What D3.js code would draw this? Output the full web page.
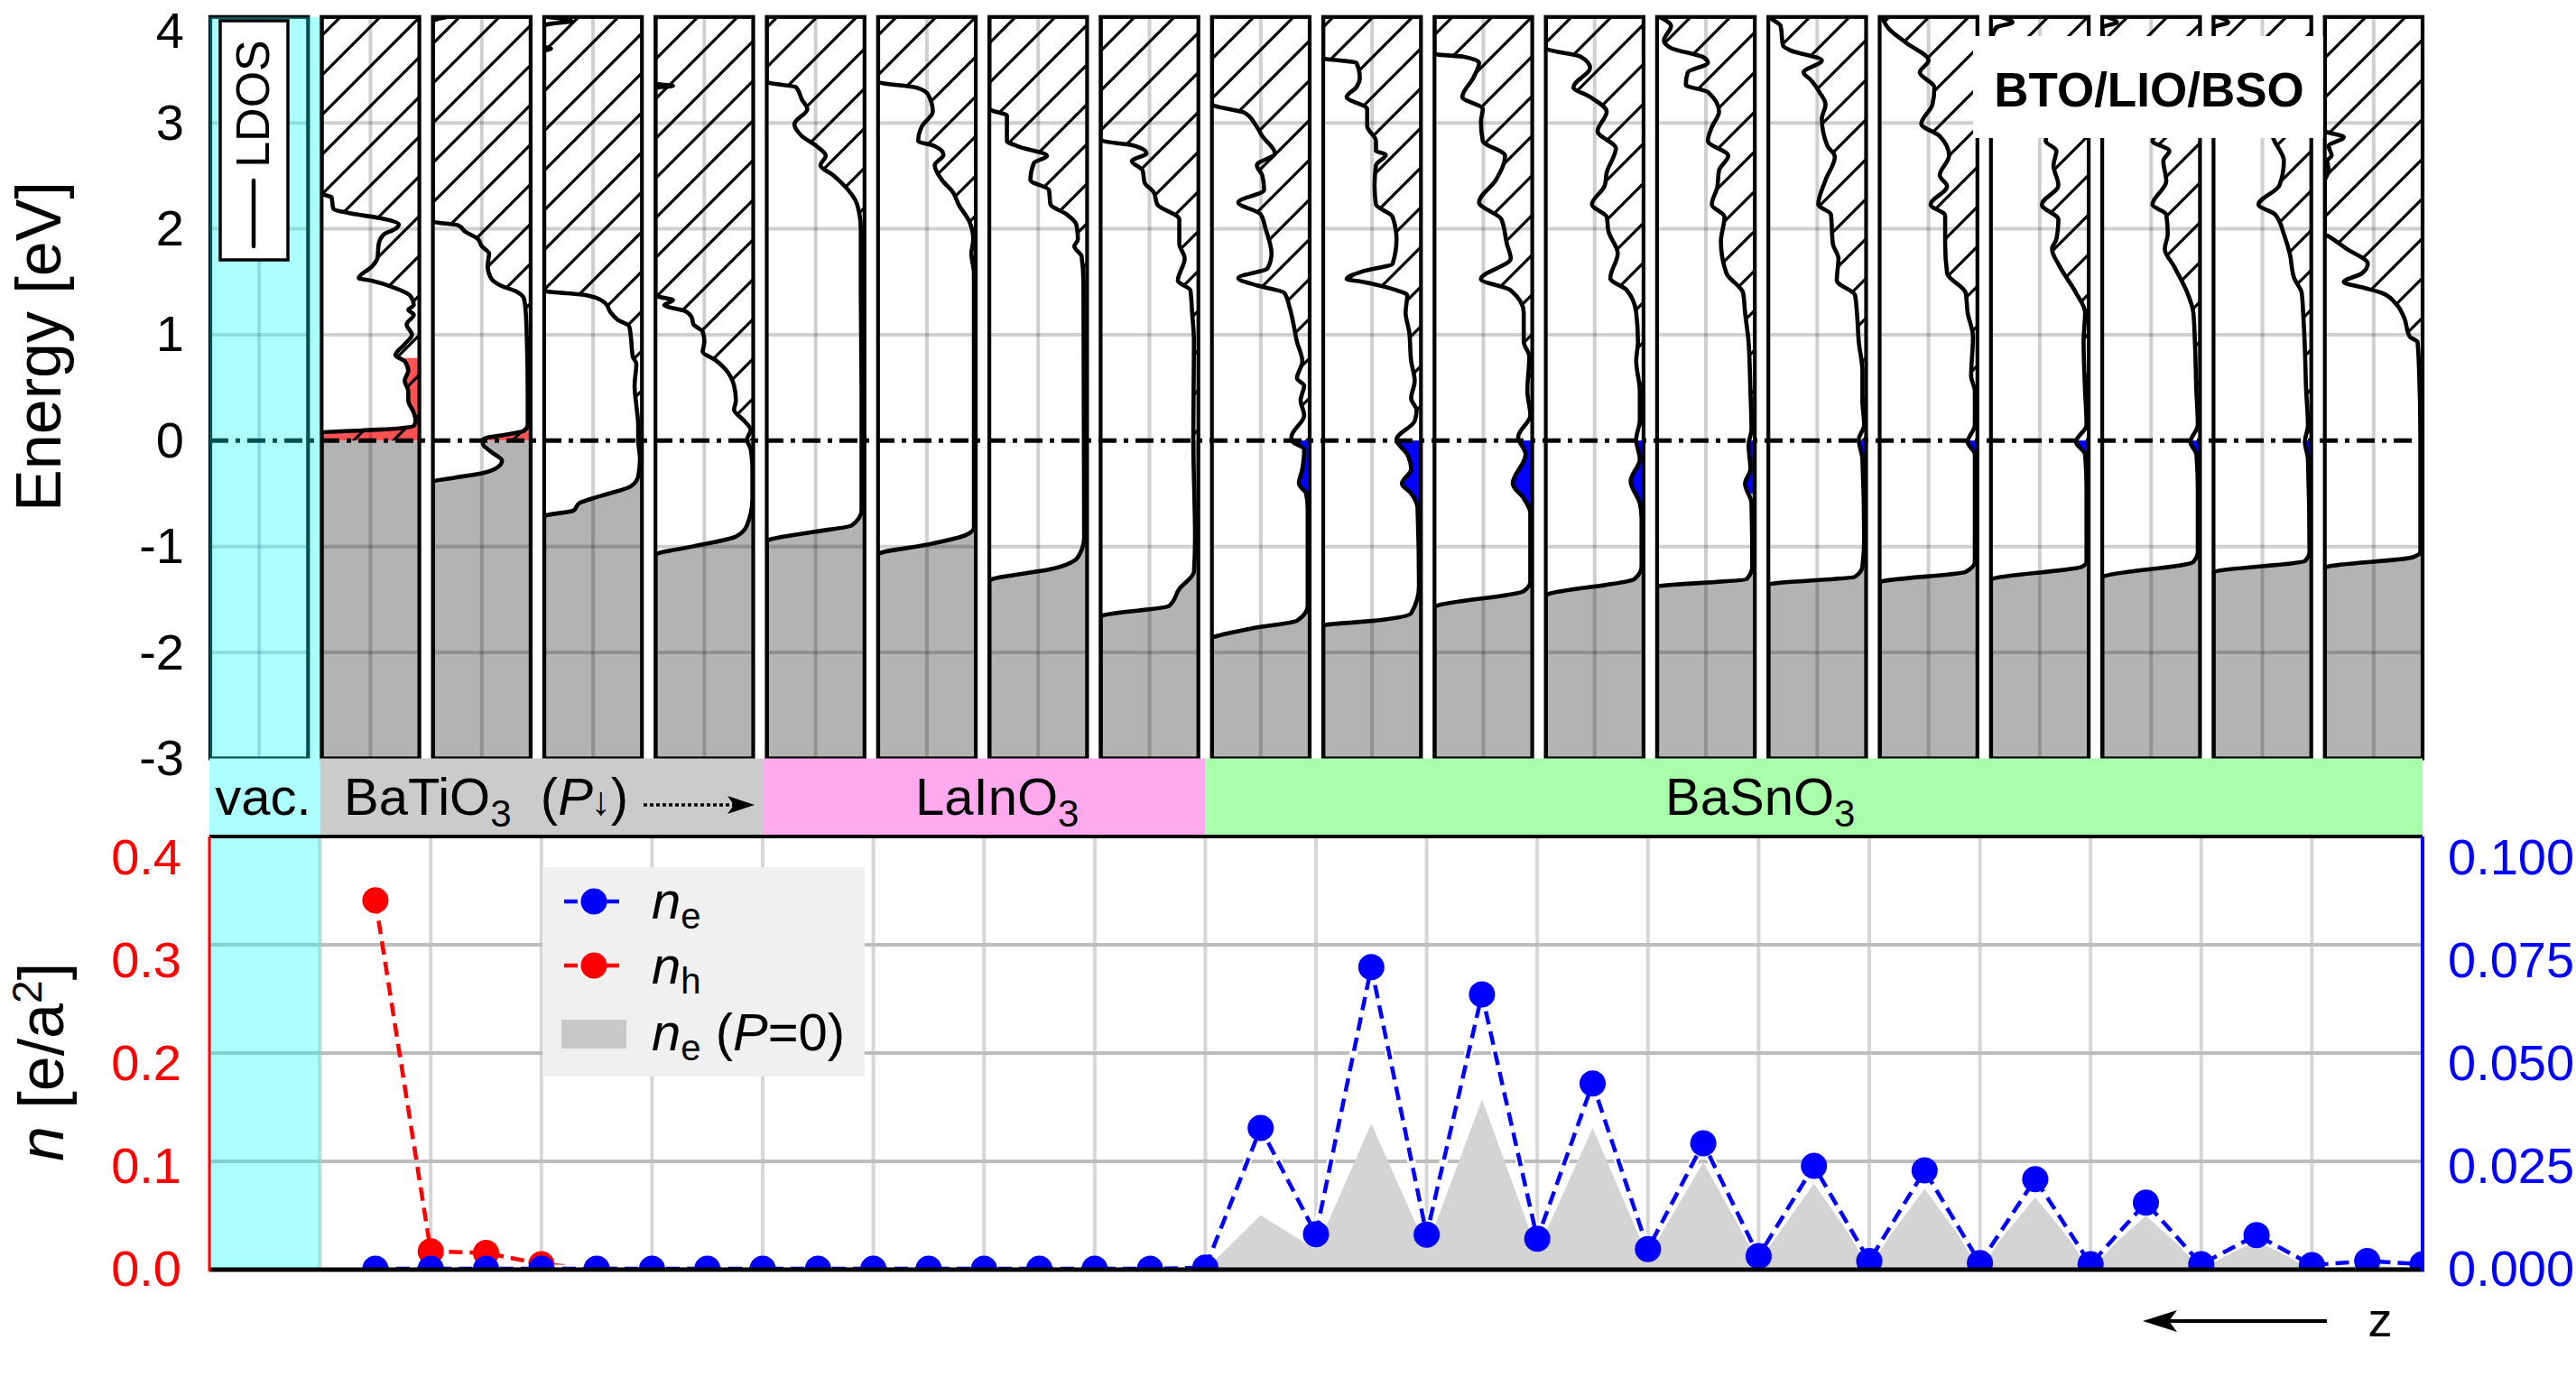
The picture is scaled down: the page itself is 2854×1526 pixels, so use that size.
<!DOCTYPE html>
<html><head><meta charset="utf-8">
<script src="https://cdn.jsdelivr.net/npm/d3@7"></script>
<style>
html,body{margin:0;padding:0;background:#fff;}
svg{display:block;font-family:"Liberation Sans",Arial,Helvetica,sans-serif;}
</style></head><body>
<svg id="c" width="2854" height="1526"></svg>
<script>
// ---------------- DATA ----------------
const energyTicks = [-3,-2,-1,0,1,2,3,4];
const energyGrid = [-2,-1,1,2,3];
// LDOS curves: [energy (eV), relative DOS (0 = panel right edge, 1 = left edge)]
const ldosBTO1 = [[2.34,1],[2.32,0.97],[2.30,0.9],[2.19,0.88],[2.145,0.70],[2.10,0.40],[2.04,0.21],[2.00,0.245],[1.95,0.36],[1.86,0.415],[1.72,0.43],[1.64,0.49],[1.535,0.62],[1.51,0.49],[1.44,0.245],[1.37,0.094],[1.28,0.057],[1.235,0.113],[1.19,0.057],[1.096,0.13],[1.00,0.075],[0.91,0.15],[0.805,0.245],[0.75,0.15],[0.66,0.113],[0.565,0.15],[0.47,0.113],[0.38,0.113],[0.264,0.057],[0.185,0.038],[0.14,0.057],[0.116,0.21],[0.097,0.585],[0.079,0.98],[0.06,1]];
const ldosBTO2 = [[4.0,0.85],[3.98,0.95],[3.96,1],[2.08,1],[2.066,0.99],[2.034,0.744],[1.974,0.67],[1.905,0.54],[1.835,0.50],[1.766,0.425],[1.65,0.44],[1.535,0.406],[1.466,0.31],[1.406,0.143],[1.34,0.068],[1.21,0.05],[0.934,0.038],[0.47,0.03],[0.148,0.03],[0.093,0.068],[0.056,0.256],[0.018,0.48],[-0.027,0.49],[-0.105,0.406],[-0.19,0.293],[-0.258,0.35],[-0.304,0.48],[-0.35,0.78],[-0.383,0.99],[-0.40,1]];
const ldosBTO3 = [[4.0,0.98],[3.98,0.8],[3.96,0.72],[3.94,0.9],[3.92,1],[3.72,1],[3.70,0.93],[3.68,1],[1.42,1],[1.41,0.98],[1.373,0.566],[1.30,0.377],[1.21,0.32],[1.14,0.245],[1.08,0.13],[0.98,0.113],[0.795,0.094],[0.726,0.057],[0.518,0.075],[0.333,0.057],[0.148,0.038],[0.01,0.038],[-0.175,0.02],[-0.337,0.038],[-0.43,0.113],[-0.52,0.415],[-0.59,0.64],[-0.66,0.70],[-0.706,0.98],[-0.72,1]];
const ldosBTO4 = [[3.37,1],[3.35,0.82],[3.33,1],[1.37,1],[1.36,0.97],[1.327,0.82],[1.28,0.91],[1.22,0.69],[1.165,0.63],[1.096,0.61],[1.03,0.517],[0.934,0.50],[0.84,0.517],[0.76,0.385],[0.68,0.29],[0.52,0.196],[0.38,0.177],[0.29,0.196],[0.195,0.10],[0.10,0.026],[0.01,0.064],[-0.08,0.026],[-0.27,0.008],[-0.545,0.008],[-0.80,0.064],[-0.905,0.177],[-0.997,0.61],[-1.07,0.99],[-1.08,1]];
const ldosLIO1 = [[3.393,1],[3.38,0.98],[3.337,0.70],[3.22,0.64],[3.13,0.585],[2.99,0.717],[2.875,0.64],[2.78,0.49],[2.69,0.396],[2.60,0.45],[2.505,0.32],[2.37,0.17],[2.23,0.075],[1.997,0.038],[1.40,0.038],[0.47,0.03],[-0.66,0.03],[-0.80,0.13],[-0.86,0.51],[-0.937,0.98],[-0.95,1]];
const ldosLIO2 = [[3.39,1],[3.38,0.98],[3.337,0.625],[3.27,0.49],[3.106,0.44],[2.97,0.55],[2.83,0.59],[2.78,0.42],[2.70,0.33],[2.60,0.42],[2.46,0.345],[2.343,0.232],[2.23,0.176],[2.066,0.064],[1.90,0.026],[1.766,0.045],[1.58,0.019],[-0.822,0.019],[-0.891,0.10],[-0.984,0.51],[-1.062,0.98],[-1.075,1]];
const ldosLIO3 = [[3.13,1],[3.115,0.97],[3.07,0.82],[2.83,0.82],[2.78,0.71],[2.69,0.41],[2.62,0.545],[2.46,0.58],[2.367,0.39],[2.23,0.375],[2.135,0.206],[2.04,0.11],[1.90,0.094],[1.835,0.13],[1.74,0.056],[1.49,0.037],[-0.914,0.03],[-1.10,0.094],[-1.214,0.375],[-1.307,0.97],[-1.32,1]];
const ldosLIO4 = [[2.852,1],[2.83,0.98],[2.79,0.68],[2.713,0.53],[2.64,0.68],[2.55,0.57],[2.436,0.55],[2.343,0.455],[2.23,0.42],[2.09,0.195],[1.86,0.195],[1.72,0.14],[1.51,0.21],[1.42,0.082],[1.21,0.064],[0.934,0.045],[0.01,0.052],[-0.914,0.034],[-1.238,0.045],[-1.40,0.195],[-1.56,0.30],[-1.65,0.98],[-1.66,1]];
const ldosBSO1 = [[3.175,1],[3.16,0.97],[3.097,0.67],[2.99,0.56],[2.875,0.485],[2.713,0.355],[2.60,0.54],[2.505,0.485],[2.367,0.466],[2.25,0.73],[2.135,0.50],[1.997,0.45],[1.766,0.39],[1.627,0.43],[1.535,0.73],[1.466,0.54],[1.396,0.26],[1.258,0.205],[1.12,0.17],[0.934,0.13],[0.75,0.075],[0.588,0.13],[0.518,0.056],[0.38,0.093],[0.24,0.056],[0.033,0.187],[-0.013,0.168],[-0.083,0.056],[-0.267,0.075],[-0.406,0.11],[-0.498,0.037],[-0.637,0.02],[-1.56,0.02],[-1.70,0.13],[-1.77,0.58],[-1.85,0.97],[-1.86,1]];
const ldosBSO2 = [[3.615,1],[3.605,0.98],[3.59,0.83],[3.568,0.66],[3.43,0.625],[3.337,0.66],[3.245,0.76],[3.13,0.55],[2.97,0.55],[2.83,0.46],[2.736,0.46],[2.70,0.36],[2.60,0.46],[2.41,0.475],[2.23,0.46],[2.113,0.29],[1.90,0.25],[1.67,0.29],[1.60,0.59],[1.526,0.76],[1.498,0.59],[1.42,0.25],[1.373,0.14],[1.21,0.157],[1.026,0.12],[0.75,0.10],[0.564,0.064],[0.40,0.10],[0.287,0.045],[0.185,0.064],[0.01,0.25],[-0.13,0.14],[-0.267,0.10],[-0.406,0.195],[-0.498,0.10],[-0.637,0.035],[-1.376,0.02],[-1.63,0.10],[-1.70,0.475],[-1.74,0.98],[-1.75,1]];
const ldosBSO3 = [[3.66,1],[3.647,0.98],[3.624,0.696],[3.568,0.544],[3.43,0.60],[3.245,0.715],[3.13,0.506],[3.014,0.525],[2.83,0.506],[2.69,0.278],[2.46,0.373],[2.25,0.544],[2.09,0.316],[1.86,0.26],[1.72,0.22],[1.526,0.525],[1.42,0.22],[1.21,0.087],[0.934,0.087],[0.795,0.03],[0.47,0.05],[0.24,0.02],[0.033,0.144],[-0.13,0.068],[-0.406,0.20],[-0.545,0.087],[-0.683,0.02],[-1.33,0.02],[-1.42,0.087],[-1.56,0.98],[-1.57,1]];
const ldosBSO4 = [[3.707,1],[3.693,0.98],[3.624,0.64],[3.52,0.547],[3.337,0.717],[3.245,0.547],[3.106,0.377],[2.92,0.47],[2.76,0.283],[2.53,0.377],[2.41,0.396],[2.23,0.528],[2.113,0.377],[1.974,0.358],[1.766,0.264],[1.535,0.34],[1.42,0.17],[1.21,0.075],[0.934,0.057],[0.75,0.075],[0.47,0.038],[0.195,0.038],[0.01,0.075],[-0.175,0.038],[-0.383,0.132],[-0.59,0.038],[-0.73,0.02],[-1.19,0.02],[-1.307,0.094],[-1.45,0.98],[-1.46,1]];
const ldosBSO5 = [[4.007,0.99],[3.915,0.857],[3.776,0.93],[3.707,0.857],[3.615,0.517],[3.568,0.48],[3.476,0.687],[3.36,0.706],[3.291,0.48],[3.106,0.366],[2.96,0.44],[2.83,0.48],[2.69,0.272],[2.552,0.366],[2.39,0.385],[2.228,0.44],[2.113,0.31],[1.88,0.347],[1.58,0.29],[1.396,0.12],[1.21,0.10],[0.934,0.064],[0.47,0.045],[0.102,0.034],[-0.036,0.064],[-0.267,0.045],[-0.406,0.10],[-0.59,0.034],[-1.19,0.026],[-1.307,0.083],[-1.376,0.99],[-1.39,1]];
const ldosBSO6 = [[3.993,0.98],[3.915,0.875],[3.73,0.85],[3.684,0.774],[3.59,0.453],[3.476,0.64],[3.406,0.566],[3.28,0.47],[3.175,0.415],[3.037,0.453],[2.783,0.396],[2.681,0.32],[2.46,0.415],[2.228,0.49],[2.136,0.36],[1.858,0.34],[1.72,0.283],[1.512,0.30],[1.373,0.113],[1.21,0.094],[0.934,0.075],[0.657,0.038],[0.38,0.038],[0.148,0.02],[0.01,0.075],[-0.175,0.038],[-0.914,0.02],[-1.19,0.038],[-1.284,0.113],[-1.353,0.98],[-1.365,1]];
const ldosBSO7 = [[4.007,0.98],[3.892,0.91],[3.753,0.725],[3.59,0.50],[3.476,0.59],[3.337,0.44],[3.175,0.46],[2.99,0.574],[2.875,0.385],[2.69,0.29],[2.505,0.385],[2.40,0.31],[2.228,0.48],[2.127,0.33],[1.858,0.33],[1.58,0.31],[1.396,0.12],[1.21,0.10],[0.98,0.045],[0.61,0.064],[0.47,0.026],[0.148,0.026],[-0.013,0.10],[-0.13,0.026],[-1.145,0.026],[-1.238,0.12],[-1.33,0.98],[-1.345,1]];
const ldosBSO8 = [[4.0,0.9],[3.95,0.78],[3.9,0.95],[3.72,1],[3.70,0.97],[3.62,0.68],[3.50,0.58],[3.35,0.66],[3.2,0.48],[3.05,0.5],[2.92,0.42],[2.83,0.44],[2.736,0.33],[2.60,0.36],[2.41,0.31],[2.228,0.48],[2.09,0.31],[1.905,0.33],[1.81,0.375],[1.65,0.30],[1.396,0.13],[1.21,0.037],[0.934,0.052],[0.47,0.037],[0.148,0.022],[-0.013,0.13],[-0.13,0.037],[-0.452,0.022],[-1.145,0.022],[-1.19,0.068],[-1.307,0.99],[-1.32,1]];
const ldosBSO9 = [[4.0,0.95],[3.95,0.85],[3.9,1],[3.78,0.98],[3.7,0.72],[3.55,0.6],[3.4,0.62],[3.2,0.5],[3.0,0.52],[2.9,0.45],[2.83,0.486],[2.736,0.314],[2.64,0.375],[2.45,0.345],[2.228,0.486],[2.136,0.345],[1.95,0.33],[1.81,0.36],[1.65,0.268],[1.396,0.129],[1.21,0.068],[0.934,0.052],[0.47,0.037],[0.148,0.022],[-0.013,0.098],[-0.13,0.037],[-0.452,0.022],[-1.05,0.022],[-1.145,0.068],[-1.284,0.99],[-1.30,1]];
const ldosBSO10 = [[4.0,0.95],[3.95,0.85],[3.9,1],[3.8,1],[3.7,0.8],[3.5,0.6],[3.3,0.55],[3.1,0.45],[2.95,0.42],[2.852,0.388],[2.64,0.28],[2.41,0.326],[2.228,0.54],[2.136,0.37],[1.95,0.28],[1.766,0.22],[1.535,0.175],[1.396,0.098],[1.21,0.083],[0.934,0.068],[0.47,0.052],[0.148,0.034],[-0.013,0.065],[-0.175,0.034],[-1.05,0.018],[-1.136,0.065],[-1.238,0.99],[-1.25,1]];
const ldosBSO11 = [[2.92,1],[2.912,0.975],[2.866,0.806],[2.783,0.96],[2.69,0.93],[2.644,0.975],[2.55,0.96],[2.45,1],[1.95,1],[1.928,0.96],[1.81,0.775],[1.67,0.56],[1.58,0.62],[1.498,0.806],[1.44,0.59],[1.396,0.42],[1.30,0.28],[1.165,0.19],[0.98,0.13],[0.934,0.052],[0.70,0.037],[0.01,0.022],[-1.05,0.022],[-1.10,0.098],[-1.19,0.975],[-1.20,1]];
const panelCurves = [null, ldosBTO1, ldosBTO2, ldosBTO3, ldosBTO4, ldosLIO1, ldosLIO2, ldosLIO3, ldosLIO4,
  ldosBSO1, ldosBSO2, ldosBSO3, ldosBSO4, ldosBSO5, ldosBSO6, ldosBSO7, ldosBSO8, ldosBSO9, ldosBSO10, ldosBSO11];
// hole states (red) up to this energy, electron states (blue) down to this energy
const holeTop = [null, 0.78, 0.12, null, null, null, null, null, null, null, null, null, null, null, null, null, null, null, null, null];
const elecBottom = [null, null, null, null, null, null, null, null, null, -0.56, -0.66, -0.62, -0.62, -0.5, -0.3, -0.2, -0.2, -0.2, -0.2, null];

// region labels (in unit-cell index along z)
const regionNames = ["vac.", "BaTiO3", "LaInO3", "BaSnO3"];
const regionStart = [0, 1, 5, 9];
const regionEnd = [1, 5, 9, 20];
const regionColors = ["#ffffff", "#cbcbcb", "#ffaaee", "#aaffaa"];

// carrier densities per layer
const layerPos = [1.5,2,2.5,3,3.5,4,4.5,5,5.5,6,6.5,7,7.5,8,8.5,9,9.5,10,10.5,11,11.5,12,12.5,13,13.5,14,14.5,15,15.5,16,16.5,17,17.5,18,18.5,19,19.5,20];
const nE = [0.0002,0.0002,0.0002,0.0002,0.0002,0.0002,0.0002,0.0002,0.0002,0.0002,0.0002,0.0002,0.0002,0.0002,0.0002,0.0005,0.0344,0.0086,0.0735,0.0085,0.0669,0.0075,0.0452,0.0050,0.0307,0.0033,0.0252,0.0021,0.0241,0.0016,0.0220,0.0013,0.0163,0.0013,0.0084,0.0011,0.0021,0.0013];
// holes only in the BaTiO3 layers (first 8 positions)
const nH = [0.359,0.0178,0.0162,0.0053,0.0004,0,0,0];
const nE_P0 = [0,0,0,0,0,0,0,0,0,0,0,0,0,0,0,0,0.0132,0.0048,0.0355,0.0052,0.0414,0.0045,0.0344,0.0031,0.0261,0.0020,0.0209,0.0015,0.0196,0.0012,0.0176,0.0010,0.0131,0.0010,0.0068,0.0008,0.0015,0.0010];
const leftTicks = [0,0.1,0.2,0.3,0.4];
const rightTicks = [0,0.025,0.05,0.075,0.1];

// ---------------- DRAWING ----------------
const svg = d3.select("#c");
const defs = svg.append("defs");
const FONT = '"Liberation Sans",Arial,Helvetica,sans-serif';

const pat = defs.append("pattern").attr("id","hatch").attr("patternUnits","userSpaceOnUse")
  .attr("width",44).attr("height",44);
pat.append("path").attr("d","M-11,11 L11,-11 M0,44 L44,0 M33,55 L55,33")
  .attr("stroke","#000").attr("stroke-width",3.2);

let clipN = 0;
function clipRect(x,y,w,h){
  const id = "cl"+(clipN++);
  defs.append("clipPath").attr("id",id).append("rect").attr("x",x).attr("y",y).attr("width",w).attr("height",h);
  return `url(#${id})`;
}

// scales
const yE = d3.scaleLinear().domain([-3,4]).range([840.5,18.8]);
const xPanel = d3.scaleLinear().domain([0,19]).range([233,2575.7]);
const panelW = 108.3;
const xB = d3.scaleLinear().domain([0,20]).range([232,2684]);
const yL = d3.scaleLinear().domain([0,0.421]).range([1407,927]);
const yR = d3.scaleLinear().domain([0,0.10525]).range([1407,927]);
const yGrid = d3.scaleLinear().domain([0,4]).range([1407,927]);

// ---- top LDOS panels ----
const topG = svg.append("g");
const T = yE(4), Bt = yE(-3), y0 = yE(0);
for (let i=0;i<20;i++){
  const L = xPanel(i), R = L+panelW;
  const g = topG.append("g");
  const pClip = clipRect(L,T,panelW,Bt-T);
  g.append("rect").attr("x",L).attr("y",T).attr("width",panelW).attr("height",Bt-T).attr("fill","#fff");
  const curve = panelCurves[i];
  let pts = null, xD = null;
  if (curve){
    pts = curve.slice();
    if (pts[0][0] < 4) pts.unshift([4.05,1]);
    if (pts[pts.length-1][0] > -3) pts.push([-3.05,1]);
    xD = d3.scaleLinear().domain([0,1]).range([R,L]);
    const area = d3.area().curve(d3.curveMonotoneY).y(d=>yE(d[0])).x0(R).x1(d=>xD(d[1]));
    const aPath = area(pts);
    g.append("g").attr("clip-path",clipRect(L,y0,panelW,Bt-y0))
      .append("path").attr("d",aPath).attr("fill","#b3b3b3");
    if (elecBottom[i] !== null){
      g.append("g").attr("clip-path",clipRect(L,y0,panelW,yE(elecBottom[i])-y0))
        .append("path").attr("d",aPath).attr("fill","#0000ff");
    }
    if (holeTop[i] !== null){
      g.append("g").attr("clip-path",clipRect(L,yE(holeTop[i]),panelW,y0-yE(holeTop[i])))
        .append("path").attr("d",aPath).attr("fill","#ff5252");
    }
    g.append("g").attr("clip-path",clipRect(L,T,panelW,y0-T))
      .append("path").attr("d",aPath).attr("fill","url(#hatch)");
  }
  const grid = g.append("g").attr("clip-path",pClip).attr("stroke","rgba(0,0,0,0.19)").attr("stroke-width",4);
  grid.append("line").attr("x1",L+panelW/2).attr("x2",L+panelW/2).attr("y1",T).attr("y2",Bt);
  grid.selectAll("line.h").data(energyGrid).enter().append("line").attr("class","h")
    .attr("x1",L).attr("x2",R).attr("y1",d=>yE(d)).attr("y2",d=>yE(d));
  if (curve){
    const line = d3.line().curve(d3.curveMonotoneY).y(d=>yE(d[0])).x(d=>xD(d[1]));
    g.append("g").attr("clip-path",pClip).append("path").attr("d",line(pts))
      .attr("fill","none").attr("stroke","#000").attr("stroke-width",4.6).attr("stroke-linejoin","round");
  }
  g.append("rect").attr("x",L).attr("y",T).attr("width",panelW).attr("height",Bt-T)
    .attr("fill","none").attr("stroke","#000").attr("stroke-width",4.2);
}
// Fermi level
svg.append("line").attr("x1",233).attr("x2",2684).attr("y1",y0).attr("y2",y0)
  .attr("stroke","#000").attr("stroke-width",5).attr("stroke-dasharray","20,8,5,8");

// energy axis labels
const eAxis = svg.append("g").attr("transform","translate(233,0)")
  .call(d3.axisLeft(yE).tickValues(energyTicks).tickFormat(d=>String(d)).tickSize(0).tickPadding(29));
eAxis.select(".domain").remove();
eAxis.selectAll("text").attr("font-size",56).attr("font-family",FONT).attr("fill","#000");
eAxis.selectAll("text").filter(d=>d===4).attr("dy",null).attr("y",34);
svg.append("text").attr("transform","translate(67,384) rotate(-90)").attr("text-anchor","middle")
  .attr("font-size",70).attr("font-family",FONT).text("Energy [eV]");

// ---- region label bar ----
const barTop = 840.5, barBot = 927;
svg.append("g").selectAll("rect").data(regionNames).enter().append("rect")
  .attr("x",(d,i)=>xB(regionStart[i])).attr("width",(d,i)=>xB(regionEnd[i])-xB(regionStart[i]))
  .attr("y",barTop).attr("height",barBot-barTop).attr("fill",(d,i)=>regionColors[i]);

// ---- bottom density plot ----
const bot = svg.append("g");
bot.append("g").attr("stroke","#d6d6d6").attr("stroke-width",4).selectAll("line")
  .data(d3.range(1,20)).enter().append("line")
  .attr("x1",d=>xB(d)).attr("x2",d=>xB(d)).attr("y1",927).attr("y2",1407);
bot.append("g").attr("stroke","#bdbdbd").attr("stroke-width",4).selectAll("line")
  .data([1,2,3]).enter().append("line")
  .attr("x1",232).attr("x2",2684).attr("y1",d=>yGrid(d)).attr("y2",d=>yGrid(d));
const plotClip = clipRect(232,927,2684-232,1407-927);
const dens = layerPos.map((p,i)=>({p, e:nE[i], e0:nE_P0[i]}));
const holes = nH.map((h,i)=>({p:layerPos[i], h}));
bot.append("path").attr("clip-path",plotClip)
  .attr("d", d3.area().x(d=>xB(d.p)).y0(yR(0)).y1(d=>yR(d.e0))(dens))
  .attr("fill","#d4d4d4");

// cyan vacuum overlay
svg.append("rect").attr("x",232).attr("y",T).attr("width",xB(1)-232).attr("height",1407-T)
  .attr("fill","rgba(0,255,255,0.32)");

svg.append("line").attr("x1",232).attr("x2",2684).attr("y1",927).attr("y2",927).attr("stroke","#000").attr("stroke-width",4);

// data lines
const dl = svg.append("g").attr("clip-path",plotClip);
const lineH = d3.line().x(d=>xB(d.p)).y(d=>yL(d.h));
const lineE = d3.line().x(d=>xB(d.p)).y(d=>yR(d.e));
dl.append("path").attr("d",lineH(holes)).attr("fill","none").attr("stroke","#ff0000").attr("stroke-width",4.5).attr("stroke-dasharray","15,8");
dl.selectAll("circle.h").data(holes).enter().append("circle").attr("class","h")
  .attr("cx",d=>xB(d.p)).attr("cy",d=>yL(d.h)).attr("r",14.5).attr("fill","#ff0000");
dl.append("path").attr("d",lineE(dens)).attr("fill","none").attr("stroke","#fff").attr("stroke-width",9);
dl.append("path").attr("d",lineE(dens)).attr("fill","none").attr("stroke","#0000ff").attr("stroke-width",4.5).attr("stroke-dasharray","15,8");
dl.selectAll("circle.e").data(dens).enter().append("circle").attr("class","e")
  .attr("cx",d=>xB(d.p)).attr("cy",d=>yR(d.e)).attr("r",14.5).attr("fill","#0000ff");

svg.append("line").attr("x1",232).attr("x2",2686).attr("y1",1407).attr("y2",1407).attr("stroke","#000").attr("stroke-width",5);
svg.append("line").attr("x1",232).attr("x2",232).attr("y1",927).attr("y2",1409).attr("stroke","#ff0000").attr("stroke-width",3);
svg.append("line").attr("x1",2684).attr("x2",2684).attr("y1",927).attr("y2",1409).attr("stroke","#0000ff").attr("stroke-width",4);

const lAxis = svg.append("g").attr("transform","translate(232,0)")
  .call(d3.axisLeft(yL).tickValues(leftTicks).tickFormat(d3.format(".1f")).tickSize(0).tickPadding(31));
lAxis.select(".domain").remove();
lAxis.selectAll("text").attr("font-size",56).attr("font-family",FONT).attr("fill","#ff0000");
const rAxis = svg.append("g").attr("transform","translate(2684,0)")
  .call(d3.axisRight(yR).tickValues(rightTicks).tickFormat(d3.format(".3f")).tickSize(0).tickPadding(28));
rAxis.select(".domain").remove();
rAxis.selectAll("text").attr("font-size",56).attr("font-family",FONT).attr("fill","#0000ff");

// y label bottom
const nl = svg.append("text").attr("transform","translate(70,1177) rotate(-90)").attr("text-anchor","middle")
  .attr("font-size",70).attr("font-family",FONT);
nl.append("tspan").attr("font-style","italic").text("n");
nl.append("tspan").text(" [e/a");
nl.append("tspan").attr("font-size",46).attr("dy",-24).text("2");
nl.append("tspan").attr("dy",24).text("]");

// legend
const lg = svg.append("g");
lg.append("rect").attr("x",601).attr("y",961).attr("width",357).attr("height",232).attr("fill","#f0f0f0");
[[999,"#0000ff","e",1018],[1070,"#ff0000","h",1090]].forEach(([ly,col,sub,bl])=>{
  lg.append("line").attr("x1",622).attr("x2",694).attr("y1",ly).attr("y2",ly).attr("stroke",col).attr("stroke-width",4.5).attr("stroke-dasharray","15,8").attr("stroke-dashoffset",-3);
  lg.append("circle").attr("cx",658).attr("cy",ly).attr("r",14.5).attr("fill",col);
  const t = lg.append("text").attr("x",722).attr("y",bl).attr("font-size",58).attr("font-family",FONT);
  t.append("tspan").attr("font-style","italic").text("n");
  t.append("tspan").attr("font-size",40).attr("dy",11).text(sub);
});
lg.append("rect").attr("x",622).attr("y",1130).attr("width",72).attr("height",32).attr("fill","#c8c8c8");
{
  const t = lg.append("text").attr("x",722).attr("y",1164).attr("font-size",58).attr("font-family",FONT);
  t.append("tspan").attr("font-style","italic").text("n");
  t.append("tspan").attr("font-size",40).attr("dy",11).text("e");
  t.append("tspan").attr("dy",-11).text(" (");
  t.append("tspan").attr("font-style","italic").text("P");
  t.append("tspan").text("=0)");
}

// region label texts
const lt = svg.append("g").attr("font-family",FONT).attr("font-size",58).attr("fill","#000");
lt.append("text").attr("x",291.5).attr("y",903).attr("text-anchor","middle").text("vac.");
{
  const t = lt.append("text").attr("x",381).attr("y",903);
  t.append("tspan").text("BaTiO");
  t.append("tspan").attr("font-size",42).attr("dy",13).text("3");
  t.append("tspan").attr("dy",-13).text("\u00a0\u00a0(");
  t.append("tspan").attr("font-style","italic").text("P");
  t.append("tspan").attr("font-size",44).attr("dx",-2).text("\u2193");
  t.append("tspan").text(")");
  const t2 = lt.append("text").attr("x",1014).attr("y",903);
  t2.append("tspan").text("LaInO");
  t2.append("tspan").attr("font-size",42).attr("dy",13).text("3");
  const t3 = lt.append("text").attr("x",1845).attr("y",903);
  t3.append("tspan").text("BaSnO");
  t3.append("tspan").attr("font-size",42).attr("dy",13).text("3");
}
svg.append("line").attr("x1",713).attr("x2",814).attr("y1",892).attr("y2",892)
  .attr("stroke","#000").attr("stroke-width",3.5).attr("stroke-dasharray","4,3");
svg.append("path").attr("d","M836,892 L806,882 L813,892 L806,902 Z").attr("fill","#000");

// LDOS legend in vacuum panel
svg.append("rect").attr("x",244).attr("y",23).attr("width",75).attr("height",265)
  .attr("fill","#fff").attr("stroke","#000").attr("stroke-width",3.5);
svg.append("line").attr("x1",281).attr("x2",281).attr("y1",200).attr("y2",273)
  .attr("stroke","#000").attr("stroke-width",4.5).attr("stroke-linecap","round");
svg.append("text").attr("transform","translate(298,115) rotate(-90)").attr("text-anchor","middle")
  .attr("font-size",52).attr("font-family",FONT).text("LDOS");

// system label
svg.append("rect").attr("x",2186).attr("y",40).attr("width",388).attr("height",113).attr("fill","#fff");
svg.append("text").attr("x",2381).attr("y",118).attr("text-anchor","middle").attr("font-weight","bold")
  .attr("font-size",53).attr("font-family",FONT).text("BTO/LIO/BSO");

// z arrow
svg.append("line").attr("x1",2400).attr("x2",2578).attr("y1",1464).attr("y2",1464).attr("stroke","#000").attr("stroke-width",4);
svg.append("path").attr("d","M2374,1464 L2412,1452 L2403,1464 L2412,1476 Z").attr("fill","#000");
svg.append("text").attr("x",2637).attr("y",1481).attr("text-anchor","middle").attr("font-size",54).attr("font-family",FONT).text("z");
</script>
</body></html>
